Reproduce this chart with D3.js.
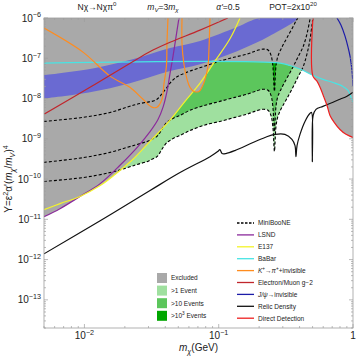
<!DOCTYPE html>
<html>
<head>
<meta charset="utf-8">
<script src="https://cdn.jsdelivr.net/npm/d3@7"></script>
<style>
body { margin: 0; background: #fff; }
text { font-family: "Liberation Sans", Arial, sans-serif; }
</style>
</head>
<body>
<div class="chart"></div>
<script>
// values: [m_chi (GeV), Y]
var mb1 = [[0.005,8.7e-11],[0.00975,1.09e-10],[0.0155,1.45e-10],[0.0207,1.9e-10],[0.0246,2.3e-10],[0.0292,2.7e-10],[0.0318,3.1e-10],[0.0347,3.6e-10],[0.0366,4.6e-10],[0.0385,6.1e-10],[0.0412,8.1e-10],[0.0434,9.1e-10],[0.0472,1.08e-9],[0.0515,1.21e-9],[0.0611,1.6e-9],[0.0791,2.2e-9],[0.102,2.7e-9],[0.132,3.4e-9],[0.163,4.1e-9],[0.186,4.8e-9],[0.214,5.4e-9],[0.233,5.1e-9],[0.245,3.8e-9],[0.253,2.0e-9],[0.260,4.9e-10],[0.267,2.0e-9],[0.276,3.6e-9],[0.296,6.1e-9],[0.322,1.0e-8],[0.357,1.9e-8],[0.389,3.4e-8],[0.424,6.0e-8],[0.454,1.27e-7],[0.479,3.0e-7],[0.495,6.7e-7],[0.503,1.0e-6]];
var mb10 = [[0.005,2.6e-10],[0.00975,3.4e-10],[0.0155,4.6e-10],[0.0207,6.1e-10],[0.0246,7.2e-10],[0.0292,8.6e-10],[0.0318,9.7e-10],[0.0347,1.15e-9],[0.0366,1.44e-9],[0.0385,1.9e-9],[0.0412,2.6e-9],[0.0434,2.9e-9],[0.0472,3.4e-9],[0.0515,3.8e-9],[0.0611,5.1e-9],[0.0791,6.8e-9],[0.102,8.5e-9],[0.132,1.07e-8],[0.163,1.28e-8],[0.186,1.5e-8],[0.214,1.7e-8],[0.233,1.6e-8],[0.245,1.2e-8],[0.253,6.4e-9],[0.260,1.5e-9],[0.267,6.4e-9],[0.276,1.14e-8],[0.296,1.9e-8],[0.322,3.2e-8],[0.357,6.0e-8],[0.389,1.07e-7],[0.424,1.9e-7],[0.454,4.0e-7],[0.479,9.4e-7],[0.482,1.0e-6]];
var mb1000 = [[0.005,2.7e-9],[0.00975,3.4e-9],[0.0155,4.5e-9],[0.0207,6.1e-9],[0.0246,7.2e-9],[0.0292,8.1e-9],[0.0318,8.5e-9],[0.0347,9.6e-9],[0.0366,1.14e-8],[0.0385,1.43e-8],[0.0412,1.9e-8],[0.0434,2.4e-8],[0.0472,3.2e-8],[0.0515,3.8e-8],[0.0611,4.8e-8],[0.0791,6.4e-8],[0.102,8.5e-8],[0.132,1.07e-7],[0.163,1.27e-7],[0.186,1.5e-7],[0.214,1.69e-7],[0.233,1.6e-7],[0.245,1.2e-7],[0.253,6.4e-8],[0.260,1.5e-8],[0.267,6.4e-8],[0.276,1.13e-7],[0.296,1.9e-7],[0.322,3.2e-7],[0.357,6.0e-7],[0.376,8.4e-7],[0.389,1.0e-6]];

var lsnd = [[0.005,1.16e-11],[0.00658,1.84e-11],[0.00927,3.7e-11],[0.0131,7.7e-11],[0.0184,2.2e-10],[0.0251,6.5e-10],[0.0308,1.5e-9],[0.0353,3.0e-9],[0.0385,6.1e-9],[0.0412,1.5e-8],[0.0434,4.2e-8],[0.0457,1.13e-7],[0.0481,3.4e-7],[0.0506,1.0e-6]];
var e137 = [[0.005,1.74e-11],[0.00658,2.45e-11],[0.00927,3.7e-11],[0.0131,6.9e-11],[0.0169,1.3e-10],[0.0230,3.1e-10],[0.0308,8.6e-10],[0.0434,2.9e-9],[0.0561,8.5e-9],[0.0726,2.4e-8],[0.0938,8.5e-8],[0.121,3.0e-7],[0.144,1.0e-6]];
var babar = [[0.005,7.6e-8],[0.286,7.6e-8],[0.340,6.6e-8],[0.403,5.4e-8],[0.503,3.8e-8],[0.597,3.0e-8],[0.710,2.5e-8],[0.841,2.0e-8],[0.918,1.6e-8],[0.96,1.14e-8],[1.0,8.1e-9]];
var kaon1 = [[0.005,5.6e-7],[0.00975,1.42e-7],[0.0155,3.6e-8],[0.0218,1.9e-8],[0.0273,9.6e-9],[0.0318,6.1e-9],[0.0347,6.1e-9],[0.0378,9.6e-9],[0.0391,2.3e-8],[0.0408,6.4e-8],[0.0412,2.5e-7],[0.0419,1.0e-6]];
var kaon2 = [[0.0533,1.0e-6],[0.0533,2.25e-7],[0.0551,7.1e-8],[0.0581,3.0e-8],[0.0611,1.9e-8],[0.0655,1.5e-8],[0.0713,1.5e-8],[0.0750,1.9e-8],[0.0791,3.0e-8],[0.0832,6.4e-8],[0.0846,1.69e-7],[0.0861,1.0e-6]];
var gm2 = [[0.005,4.1e-9],[0.0110,1.9e-8],[0.0246,9.5e-8],[0.0324,1.6e-7],[0.0434,2.5e-7],[0.0726,5.0e-7],[0.117,1.0e-6]];
var directDet = [[0.503,1.0e-6],[0.503,3.6e-8],[0.539,2.7e-8],[0.568,1.9e-8],[0.608,1.07e-8],[0.640,6.8e-9],[0.674,3.8e-9],[0.722,2.6e-9],[0.800,1.7e-9],[0.887,1.29e-9],[1.0,1.08e-9]];
var jpsi = [[0.760,1.0e-6],[0.813,6.7e-7],[0.871,3.6e-7],[0.918,1.9e-7],[0.950,1.13e-7],[0.98,5.4e-8],[1.0,2.0e-8]];
var relic = [[0.005,1.39e-12],[0.0131,9.2e-12],[0.0308,5.2e-11],[0.0515,1.45e-10],[0.0861,3.6e-10],[0.0988,4.9e-10],[0.102,5.4e-10],[0.106,4.3e-10],[0.113,4.3e-10],[0.132,5.1e-10],[0.180,8.1e-10],[0.221,1.08e-9],[0.262,1.29e-9],[0.311,1.29e-9],[0.351,9.7e-10],[0.370,6.8e-10],[0.376,3.6e-10],[0.383,6.8e-10],[0.403,1.29e-9],[0.439,2.7e-9],[0.479,4.3e-9],[0.491,4.5e-9],[0.498,2.7e-10],[0.505,3.8e-9],[0.530,5.4e-9],[0.597,6.4e-9],[0.710,8.1e-9],[0.800,9.6e-9],[0.902,1.14e-8],[1.0,1.43e-8]];
var bandLow = [[0.005,1.0e-8],[0.0110,1.43e-8],[0.0218,2.4e-8],[0.0434,4.8e-8],[0.0726,7.1e-8],[0.137,1.5e-7],[0.241,3.6e-7],[0.383,1.0e-6]];
var bandHigh = [[0.005,3.8e-8],[0.0110,5.4e-8],[0.0218,9.0e-8],[0.0434,1.8e-7],[0.0726,2.7e-7],[0.137,6.0e-7],[0.203,1.0e-6]];

// ticks
var yTicks = [1e-6, 1e-7, 1e-8, 1e-9, 1e-10, 1e-11, 1e-12, 1e-13];
var yTickLabels = ["\u22126", "\u22127", "\u22128", "\u22129", "\u221210", "\u221211", "\u221212", "\u221213"];
var xTicks = [0.01, 0.1, 1];
var xTickLabels = [["10", "\u22122"], ["10", "\u22121"], ["1", ""]];

// legends
var lineNames = [
    [["MiniBooNE", ""]],
    [["LSND", ""]],
    [["E137", ""]],
    [["BaBar", ""]],
    [["K", "it"], ["+", "sup"], ["\u2192", ""], ["\u03c0", "it"], ["+", "sup"], ["+invisible", ""]],
    [["Electron/Muon g\u22122", ""]],
    [["J/\u03c8", "it"], ["\u2192invisible", ""]],
    [["Relic Density", ""]],
    [["Direct Detection", ""]]
];
var lineColors = ["#000", "#8b2a9b", "#f4f42a", "#48e4e4", "#ff8c1e", "#c0262c", "#1c1ca8", "#111", "#ee2020"];
var fillNames = [
    [["Excluded", ""]],
    [[">1 Event", ""]],
    [[">10 Events", ""]],
    [[">10", ""], ["3", "sup"], [" Events", ""]]
];
var fillColors = ["#a9a9a9", "#9fe09f", "#5cc65c", "#00a600"];

var svgW = 357;
var svgH = 361;
var margin = { top: 18, right: 4, bottom: 33, left: 44 };
var chartW = svgW - margin.left - margin.right;
var chartH = svgH - margin.top - margin.bottom;

var x = d3.scaleLog().domain([0.005, 1]).range([0, chartW]);
var y = d3.scaleLog().domain([2e-14, 1e-6]).range([chartH, 0]);
var TL = [0.005, 1e-6], TR = [1, 1e-6];

var line = d3.line()
    .x(function(d) { return x(d[0]); })
    .y(function(d) { return y(d[1]); })
    .curve(d3.curveCatmullRom.alpha(0.5));

// rich text: parts = [[text, kind]], kind in "", "it", "sup", "sub", "itsub"
function rich(t, parts, fs) {
    var shift = 0;
    parts.forEach(function(p) {
        var k = p[1] || "";
        var target = 0;
        if (k.indexOf("sup") >= 0) target = -0.42 * fs;
        if (k.indexOf("sub") >= 0) target = 0.28 * fs;
        var ts = t.append("tspan").text(p[0])
            .attr("dy", target - shift)
            .attr("font-size", target ? 0.72 * fs : fs);
        if (k.indexOf("it") >= 0) ts.attr("font-style", "italic");
        shift = target;
    });
}

var svg = d3.select(".chart").append("svg")
    .attr("width", svgW)
    .attr("height", svgH);
svg.append("defs").append("clipPath").attr("id", "clip")
    .append("rect").attr("width", chartW).attr("height", chartH);

var chart = svg.append("g")
    .attr("transform", "translate(" + margin.left + "," + margin.top + ")");
var plot = chart.append("g").attr("clip-path", "url(#clip)");

// MiniBooNE event regions
plot.append("path").attr("d", line(mb1.concat([TL])) + "Z").attr("fill", fillColors[1]);
plot.append("path").attr("d", line(mb10.concat([TL])) + "Z").attr("fill", fillColors[2]);
plot.append("path").attr("d", line(mb1000.concat([TL])) + "Z").attr("fill", fillColors[3]);

// excluded regions
var excluded = [
    lsnd.concat([TL]),
    e137.concat([TL]),
    babar.concat([TR, TL]),
    kaon1.concat([TL]),
    kaon2,
    directDet.concat([TR]),
    jpsi.concat([TR])
];
excluded.forEach(function(r) {
    plot.append("path").attr("d", line(r) + "Z").attr("fill", fillColors[0]);
});

// g-2 band
plot.append("path")
    .attr("d", line(bandLow.concat(bandHigh.slice().reverse())) + "Z")
    .attr("fill", "#6a6ad2");

// contours
[mb1, mb10, mb1000].forEach(function(c) {
    plot.append("path").attr("d", line(c))
        .attr("fill", "none").attr("stroke", "#000")
        .attr("stroke-width", 1.1).attr("stroke-dasharray", "3,2");
});

var curves = [
    [lsnd, lineColors[1]],
    [e137, lineColors[2]],
    [babar, lineColors[3]],
    [kaon1, lineColors[4]],
    [kaon2, lineColors[4]],
    [gm2, lineColors[5]],
    [jpsi, lineColors[6]],
    [relic, lineColors[7]],
    [directDet, lineColors[8]]
];
curves.forEach(function(c) {
    plot.append("path").attr("d", line(c[0]))
        .attr("fill", "none").attr("stroke", c[1])
        .attr("stroke-width", 1.2);
});

// frame + ticks
var frameCol = "#9d9d9d";
chart.append("rect").attr("width", chartW).attr("height", chartH)
    .attr("fill", "none").attr("stroke", frameCol).attr("stroke-width", 0.8);

var yMinor = [];
for (var e = -14; e <= -7; e++) {
    for (var m = 2; m <= 9; m++) {
        var v = m * Math.pow(10, e);
        if (v >= 2e-14 && v <= 1e-6) yMinor.push(v);
    }
}
var xMinor = [];
[0.001, 0.01, 0.1].forEach(function(b) {
    for (var m = 2; m <= 9; m++) {
        var v = m * b;
        if (v >= 0.005 && v <= 1) xMinor.push(v);
    }
});
var ticks = chart.append("g").attr("stroke", frameCol).attr("stroke-width", 0.7);
yTicks.forEach(function(t) {
    ticks.append("line").attr("x1", 0).attr("x2", 4).attr("y1", y(t)).attr("y2", y(t));
    ticks.append("line").attr("x1", chartW).attr("x2", chartW - 4).attr("y1", y(t)).attr("y2", y(t));
});
yMinor.forEach(function(t) {
    ticks.append("line").attr("x1", 0).attr("x2", 2).attr("y1", y(t)).attr("y2", y(t));
    ticks.append("line").attr("x1", chartW).attr("x2", chartW - 2).attr("y1", y(t)).attr("y2", y(t));
});
xTicks.forEach(function(t) {
    ticks.append("line").attr("x1", x(t)).attr("x2", x(t)).attr("y1", chartH).attr("y2", chartH - 4);
    ticks.append("line").attr("x1", x(t)).attr("x2", x(t)).attr("y1", 0).attr("y2", 4);
});
xMinor.forEach(function(t) {
    ticks.append("line").attr("x1", x(t)).attr("x2", x(t)).attr("y1", chartH).attr("y2", chartH - 2);
    ticks.append("line").attr("x1", x(t)).attr("x2", x(t)).attr("y1", 0).attr("y2", 2);
});

// tick labels
yTicks.forEach(function(t, i) {
    var tx = chart.append("text").attr("x", -3).attr("y", y(t) + 3.5)
        .attr("text-anchor", "end").attr("fill", "#222");
    rich(tx, [["10", ""], [yTickLabels[i], "sup"]], 10);
});
xTicks.forEach(function(t, i) {
    var tx = chart.append("text").attr("x", x(t)).attr("y", chartH + 11)
        .attr("text-anchor", "middle").attr("fill", "#222");
    rich(tx, [[xTickLabels[i][0], ""], [xTickLabels[i][1], "sup"]], 10);
});

// axis titles
var xt = chart.append("text").attr("x", chartW / 2).attr("y", chartH + 23)
    .attr("text-anchor", "middle").attr("fill", "#222");
rich(xt, [["m", "it"], ["\u03c7", "itsub"], ["(GeV)", ""]], 10);

var yt = svg.append("text")
    .attr("transform", "translate(12," + (margin.top + chartH / 2 + 6) + ") rotate(-90)")
    .attr("text-anchor", "middle").attr("fill", "#222");
rich(yt, [["Y=\u03b5", ""], ["2", "sup"], ["\u03b1'(", ""], ["m", "it"], ["\u03c7", "itsub"], ["/", ""], ["m", "it"], ["V", "itsub"], [")", ""], ["4", "sup"]], 10);

// header labels
var heads = [
    [97, [["N\u03c7\u2192N\u03c7\u03c0", ""], ["0", "sup"]]],
    [163, [["m", "it"], ["V", "itsub"], ["=3", ""], ["m", "it"], ["\u03c7", "itsub"]]],
    [228, [["\u03b1'", "it"], ["=0.5", ""]]],
    [293, [["POT=2x10", ""], ["20", "sup"]]]
];
heads.forEach(function(h) {
    var tx = svg.append("text").attr("x", h[0]).attr("y", 10)
        .attr("text-anchor", "middle").attr("fill", "#222");
    rich(tx, h[1], 8.5);
});

// line legend
var lg = svg.append("g");
lineNames.forEach(function(n, i) {
    var ly = 223 + i * 11.9;
    lg.append("line").attr("x1", 237).attr("x2", 254).attr("y1", ly).attr("y2", ly)
        .attr("stroke", lineColors[i]).attr("stroke-width", 1.3)
        .attr("stroke-dasharray", i === 0 ? "2.5,1.5" : null);
    var tx = lg.append("text").attr("x", 258).attr("y", ly + 2.3).attr("fill", "#222");
    rich(tx, n, 6.5);
});

// fill legend
fillNames.forEach(function(n, i) {
    var ly = 278 + i * 12.6;
    lg.append("rect").attr("x", 157).attr("y", ly - 5).attr("width", 10).attr("height", 10)
        .attr("fill", fillColors[i]);
    var tx = lg.append("text").attr("x", 171).attr("y", ly + 2.3).attr("fill", "#222");
    rich(tx, n, 6.5);
});
</script>
</body>
</html>
